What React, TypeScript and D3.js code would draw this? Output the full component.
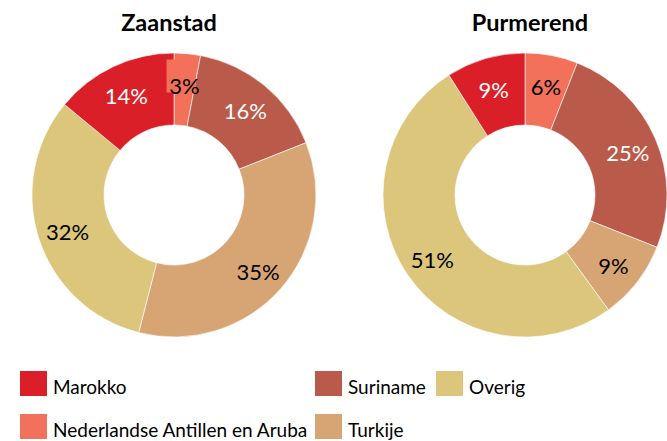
import React from "react";
import * as d3 from "d3";

const categories = ["Nederlandse Antillen en Aruba", "Suriname", "Turkije", "Overig", "Marokko"];
const colors = ["#F3705A", "#BA5A4A", "#D7A574", "#DBC67C", "#DA1F28"];
const labelColors = ["#000", "#fff", "#000", "#000", "#fff"];
const zaanstadValues = [3, 16, 35, 32, 14];
const purmerendValues = [6, 25, 9, 51, 9];
const charts = [
  { title: "Zaanstad", values: zaanstadValues, cx: 174, titleX: 169 },
  { title: "Purmerend", values: purmerendValues, cx: 525, titleX: 530 },
];
const legendItems = [
  { name: "Marokko", idx: 4, x: 20, y: 371 },
  { name: "Suriname", idx: 1, x: 315, y: 371 },
  { name: "Overig", idx: 3, x: 436, y: 371 },
  { name: "Nederlandse Antillen en Aruba", idx: 0, x: 20, y: 414 },
  { name: "Turkije", idx: 2, x: 315, y: 414 },
];

const FONT = "Lato, 'Open Sans', sans-serif";

export default function App() {
  const cy = 195;
  const outerR = 142;
  const innerR = 70;
  const labelR = 112;
  const pie = d3.pie<number>().sort(null).value((d) => d);
  const arc = d3.arc<d3.PieArcDatum<number>>().innerRadius(innerR).outerRadius(outerR);
  return (
    <svg width={667} height={441} style={{ position: "absolute", left: 0, top: 0 }}>
      {charts.map((c) => {
        const arcs = pie(c.values);
        return (
          <g key={c.title}>
            <text x={c.titleX} y={31} textAnchor="middle" fontFamily={FONT} fontWeight="bold" fontSize={23.5} fill="#000">
              {c.title}
            </text>
            <g transform={`translate(${c.cx},${cy})`}>
              {arcs.map((a, i) => (
                <path key={i} d={arc(a) || ""} fill={colors[i]} stroke="#fff" strokeWidth={0.6} />
              ))}
              {arcs.map((a, i) => {
                const mid = (a.startAngle + a.endAngle) / 2;
                const x = Math.sin(mid) * labelR;
                const y = -Math.cos(mid) * labelR + 2;
                const small = c.values[i] <= 4;
                return (
                  <g key={"l" + i}>
                    {small && <rect x={x - 18} y={y - 26} width={29} height={33} fill={colors[i]} />}
                    <text x={x} y={y} textAnchor="middle" dominantBaseline="central" fontFamily={FONT} fontSize={22} fill={labelColors[i]}>
                      {c.values[i] + "%"}
                    </text>
                  </g>
                );
              })}
            </g>
          </g>
        );
      })}
      {legendItems.map((l) => (
        <g key={l.name}>
          <rect x={l.x} y={l.y} width={27} height={25} fill={colors[l.idx]} />
          <text x={l.x + 33} y={l.y + 23} fontFamily={FONT} fontSize={19} fill="#000">
            {l.name}
          </text>
        </g>
      ))}
    </svg>
  );
}
